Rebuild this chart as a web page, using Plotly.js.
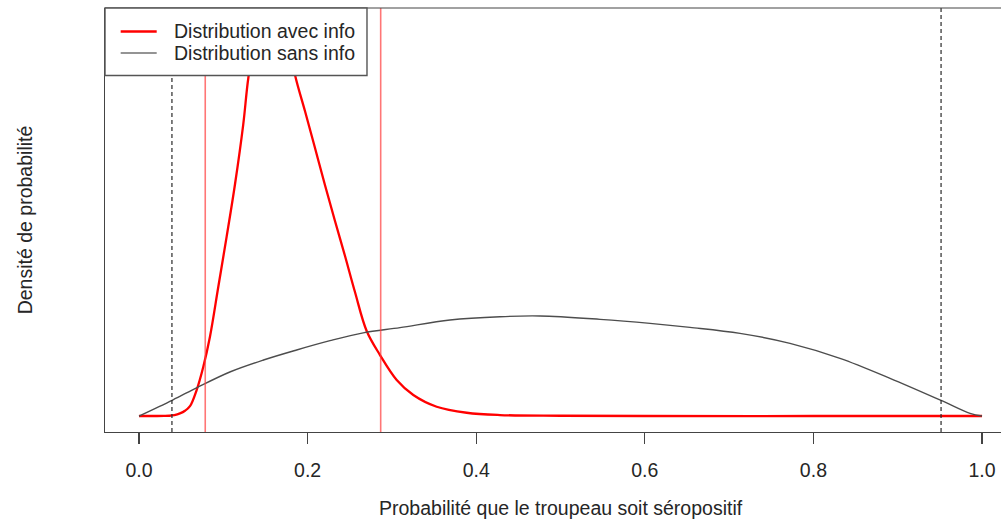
<!DOCTYPE html>
<html>
<head>
<meta charset="utf-8">
<script src="https://cdn.plot.ly/plotly-3.0.1.min.js"></script>
<style>html,body{margin:0;padding:0;background:#fff;}#chart{width:1001px;height:520px;}</style>
</head>
<body>
<div id="chart"></div>
<script>
// Distribution avec info (red curve)
var redX = [0, 0.02, 0.03, 0.036, 0.042, 0.0486, 0.0546, 0.0605, 0.0684, 0.0763, 0.0842, 0.0941, 0.104, 0.1139, 0.1237, 0.1297, 0.14, 0.152, 0.165, 0.175, 0.1851, 0.1969, 0.2088, 0.2206, 0.2325, 0.2444, 0.2562, 0.2701, 0.2859, 0.3057, 0.3254, 0.3531, 0.3887, 0.4282, 0.5, 0.6, 0.8, 1.0];
var redY = [0, 0, 0.001, 0.004, 0.014, 0.04, 0.08, 0.15, 0.397, 0.753, 1.211, 1.974, 2.738, 3.538, 4.453, 5.16, 5.95, 6.4, 6.35, 5.9, 5.206, 4.656, 4.092, 3.527, 2.977, 2.443, 1.893, 1.298, 0.931, 0.55, 0.321, 0.142, 0.05, 0.015, 0.004, 0, 0, 0];
// Distribution sans info (gray curve)
var grayX = [0, 0.0399, 0.0694, 0.1085, 0.1477, 0.187, 0.2266, 0.2659, 0.3096, 0.3689, 0.4282, 0.4757, 0.5469, 0.6062, 0.6536, 0.7129, 0.7722, 0.8315, 0.8909, 0.9522, 0.9858, 1.0];
var grayY = [0, 0.244, 0.438, 0.676, 0.855, 1.008, 1.15, 1.27, 1.35, 1.466, 1.516, 1.527, 1.476, 1.415, 1.354, 1.262, 1.11, 0.881, 0.576, 0.234, 0.041, 0];
// interval limits
var sansInfoLimits = [0.0391, 0.9514];
var avecInfoLimits = [0.0786, 0.2867];
var xTicks = [0, 0.2, 0.4, 0.6, 0.8, 1.0];
var xTickLabels = ["0.0", "0.2", "0.4", "0.6", "0.8", "1.0"];
var legendLabels = ["Distribution avec info", "Distribution sans info"];
var xTitle = "Probabilité que le troupeau soit séropositif";
var yTitle = "Densité de probabilité";

var FONT = "Liberation Sans, Arial, Helvetica, sans-serif";
var TXT = "#262626";
var FS = 19.5;

var traces = [
  {x: redX, y: redY, type: "scatter", mode: "lines", name: legendLabels[0],
   line: {color: "#ff0000", width: 2.3, shape: "spline", smoothing: 1}, hoverinfo: "skip"},
  {x: grayX, y: grayY, type: "scatter", mode: "lines", name: legendLabels[1],
   line: {color: "#4d4d4d", width: 1.4, shape: "spline", smoothing: 1}, hoverinfo: "skip"}
];

var shapes = [];
sansInfoLimits.forEach(function (v) {
  shapes.push({type: "line", xref: "x", yref: "paper", x0: v, x1: v, y0: 0, y1: 1,
    line: {color: "#2a2a2a", width: 1.2, dash: "4px,3px"}, layer: "above"});
});
avecInfoLimits.forEach(function (v) {
  shapes.push({type: "line", xref: "x", yref: "paper", x0: v, x1: v, y0: 0, y1: 1,
    line: {color: "rgba(255,60,60,0.7)", width: 1.6}, layer: "above"});
});
// top border of the plot box
shapes.push({type: "line", xref: "paper", yref: "paper", x0: 0, x1: 1, y0: 1, y1: 1,
  line: {color: "#444", width: 1.2}, layer: "above"});
// legend box
shapes.push({type: "rect", xref: "paper", yref: "paper", x0: 0, x1: 0.2924, y0: 0.8408, y1: 1,
  fillcolor: "#ffffff", line: {color: "#555", width: 1.4}, layer: "above"});
shapes.push({type: "line", xref: "paper", yref: "paper", x0: 0.0175, x1: 0.0577, y0: 0.9446, y1: 0.9446,
  line: {color: "#ff0000", width: 2.3}, layer: "above"});
shapes.push({type: "line", xref: "paper", yref: "paper", x0: 0.0175, x1: 0.0577, y0: 0.8939, y1: 0.8939,
  line: {color: "#707070", width: 1.5}, layer: "above"});

var annotations = [
  {xref: "paper", yref: "paper", x: 0.0748, y: 0.9446, xanchor: "left", yanchor: "middle",
   text: legendLabels[0], showarrow: false, font: {family: FONT, size: FS, color: TXT}},
  {xref: "paper", yref: "paper", x: 0.0748, y: 0.8939, xanchor: "left", yanchor: "middle",
   text: legendLabels[1], showarrow: false, font: {family: FONT, size: FS, color: TXT}},
  {xref: "paper", yref: "paper", x: 0.5084, y: -0.1792, xanchor: "center", yanchor: "middle",
   text: xTitle, showarrow: false, font: {family: FONT, size: FS, color: TXT}}
];

var layout = {
  width: 1001, height: 520,
  margin: {l: 105, r: 0, t: 8, b: 88},
  paper_bgcolor: "#ffffff", plot_bgcolor: "#ffffff",
  showlegend: false,
  font: {family: FONT, color: TXT, size: FS},
  xaxis: {
    range: [-0.0403, 1.0225], autorange: false,
    tickvals: xTicks, ticktext: xTickLabels,
    ticks: "outside", ticklen: 11, tickwidth: 1.2, tickcolor: "#444",
    ticklabelstandoff: 9,
    showline: true, linecolor: "#444", linewidth: 1.2,
    showgrid: false, zeroline: false,
    tickfont: {family: FONT, size: FS, color: TXT}
  },
  yaxis: {
    range: [-0.244, 6.229], autorange: false,
    showticklabels: false, ticks: "",
    showline: true, linecolor: "#444", linewidth: 1.2,
    showgrid: false, zeroline: false,
    title: {text: yTitle, standoff: 66,
            font: {family: FONT, size: FS, color: TXT}}
  },
  shapes: shapes,
  annotations: annotations
};

Plotly.newPlot("chart", traces, layout, {displayModeBar: false, staticPlot: true});
</script>
</body>
</html>
